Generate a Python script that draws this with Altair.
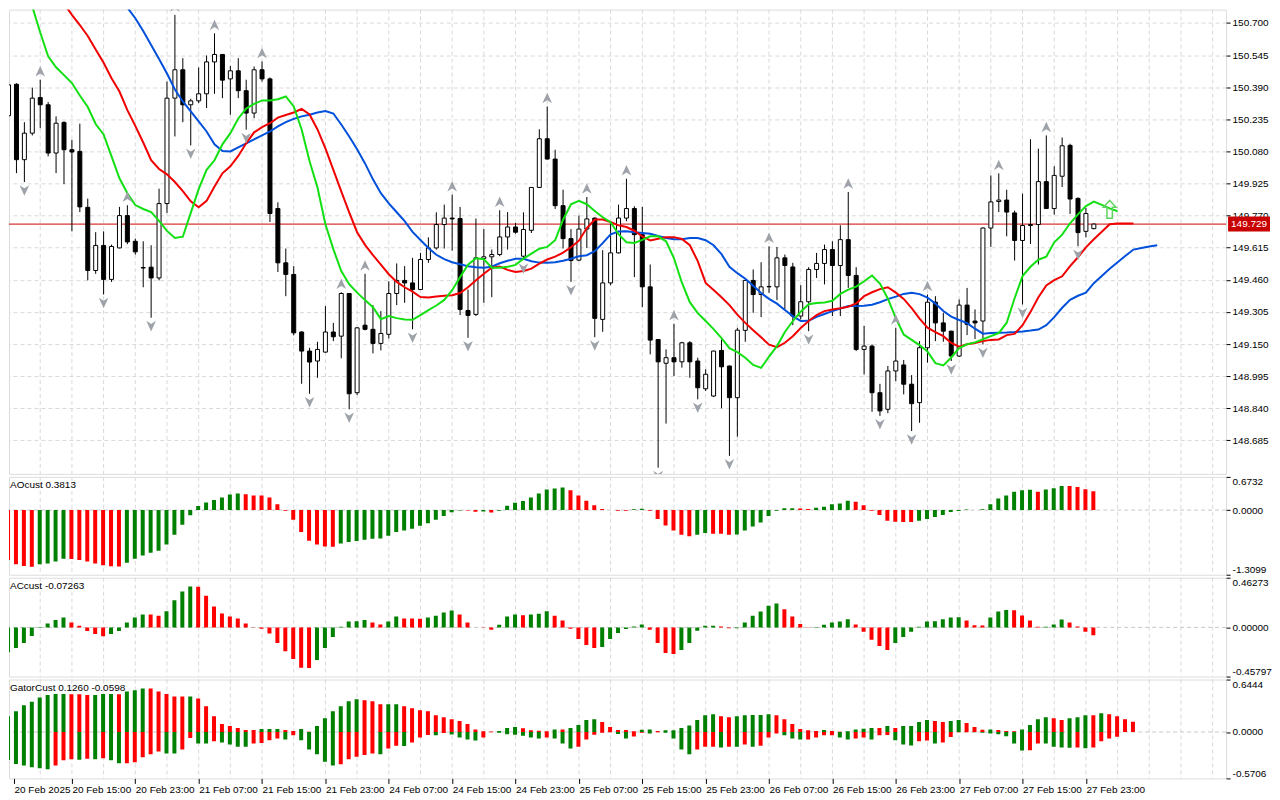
import json
import altair as alt
import pandas as pd

FONT = "Liberation Sans"
FS = 10

# ---------------- data ----------------
OPEN = [150.252, 150.404, 150.040, 150.168, 150.340, 150.305, 150.072, 150.220, 150.088, 150.080,
        149.810, 149.505, 149.626, 149.462, 149.614, 149.770, 149.646, 149.519, 149.521, 149.469,
        149.828, 150.337, 150.474, 150.305, 150.324, 150.358, 150.512, 150.548, 150.430, 150.469,
        150.373, 150.265, 150.474, 150.430, 149.804, 149.542, 149.486, 149.208, 149.116, 149.068,
        149.111, 149.208, 149.188, 149.394, 148.915, 149.241, 149.221, 149.153, 149.197, 149.394,
        149.457, 149.445, 149.413, 149.558, 149.614, 149.727, 149.758, 149.756, 149.312, 149.293,
        149.563, 149.571, 149.582, 149.667, 149.715, 149.574, 149.699, 149.906, 150.141, 150.043,
        149.818, 149.659, 149.555, 149.705, 149.758, 149.269, 149.445, 149.590, 149.758, 149.804,
        149.678, 149.426, 149.172, 149.057, 149.084, 149.064, 149.156, 149.068, 148.934, 148.899,
        149.119, 149.044, 148.891, 149.216, 149.457, 149.389, 149.428, 149.426, 149.566, 149.522,
        149.285, 149.354, 149.510, 149.539, 149.606, 149.529, 149.654, 149.481, 149.124, 149.140,
        148.915, 148.835, 149.020, 149.049, 148.956, 148.867, 149.132, 149.352, 149.252, 149.212,
        149.092, 149.338, 149.261, 149.261, 149.710, 149.838, 149.845, 149.783, 149.650, 149.722,
        149.727, 149.934, 149.804, 149.960, 150.109, 149.853, 149.694, 149.707]
HIGH = [150.413, 150.409, 150.221, 150.388, 150.426, 150.318, 150.249, 150.225, 150.136, 150.214,
        149.852, 149.690, 149.694, 149.630, 149.812, 149.820, 149.659, 149.646, 149.627, 149.900,
        150.417, 150.739, 150.530, 150.334, 150.485, 150.543, 150.650, 150.550, 150.493, 150.530,
        150.426, 150.490, 150.514, 150.437, 149.834, 149.611, 149.526, 149.212, 149.132, 149.161,
        149.333, 149.252, 149.400, 149.396, 149.232, 149.489, 149.338, 149.309, 149.453, 149.539,
        149.526, 149.566, 149.590, 149.665, 149.786, 149.823, 149.871, 149.812, 149.413, 149.756,
        149.705, 149.606, 149.796, 149.787, 149.734, 149.786, 149.908, 150.187, 150.297, 150.088,
        149.895, 149.705, 149.770, 149.860, 149.761, 149.603, 149.734, 149.823, 149.948, 149.815,
        149.812, 149.534, 149.174, 149.124, 149.248, 149.161, 149.164, 149.084, 149.028, 149.118,
        149.172, 149.046, 149.228, 149.459, 149.510, 149.545, 149.622, 149.619, 149.582, 149.542,
        149.434, 149.521, 149.590, 149.630, 149.646, 149.723, 149.884, 149.521, 149.237, 149.148,
        148.958, 149.044, 149.228, 149.073, 149.000, 149.164, 149.389, 149.381, 149.301, 149.214,
        149.365, 149.421, 149.317, 149.713, 149.964, 149.974, 149.895, 149.794, 149.876, 150.139,
        150.093, 150.157, 150.008, 150.147, 150.117, 149.858, 149.807, 149.732]
LOW = [150.244, 149.975, 149.932, 150.157, 150.192, 150.056, 149.975, 149.922, 149.694, 149.787,
       149.457, 149.489, 149.389, 149.450, 149.612, 149.632, 149.582, 149.424, 149.277, 149.457,
       149.783, 150.152, 150.221, 150.109, 150.313, 150.289, 150.358, 150.337, 150.257, 150.337,
       150.185, 150.240, 150.417, 149.739, 149.498, 149.381, 149.192, 148.958, 148.910, 148.987,
       149.108, 149.164, 149.081, 148.835, 148.904, 149.216, 149.105, 149.119, 149.177, 149.338,
       149.349, 149.221, 149.411, 149.542, 149.606, 149.611, 149.601, 149.290, 149.180, 149.285,
       149.349, 149.376, 149.574, 149.606, 149.683, 149.555, 149.686, 149.904, 150.041, 149.802,
       149.611, 149.450, 149.550, 149.614, 149.183, 149.209, 149.434, 149.587, 149.743, 149.473,
       149.328, 149.100, 148.553, 148.766, 148.996, 149.036, 148.987, 148.883, 148.923, 148.894,
       148.840, 148.610, 148.703, 149.161, 149.301, 149.280, 149.397, 149.362, 149.317, 149.241,
       149.269, 149.212, 149.469, 149.438, 149.285, 149.285, 149.421, 149.116, 149.004, 148.823,
       148.803, 148.816, 148.971, 148.907, 148.730, 148.770, 149.060, 149.164, 149.161, 149.068,
       149.087, 149.193, 149.174, 149.148, 149.619, 149.787, 149.670, 149.553, 149.341, 149.633,
       149.534, 149.802, 149.775, 149.908, 149.778, 149.622, 149.665, 149.704]
CLOSE = [150.401, 150.040, 150.168, 150.337, 150.305, 150.072, 150.216, 150.088, 150.077, 149.812,
         149.505, 149.626, 149.462, 149.621, 149.770, 149.643, 149.595, 149.517, 149.469, 149.828,
         150.337, 150.474, 150.305, 150.324, 150.358, 150.512, 150.548, 150.424, 150.469, 150.373,
         150.265, 150.474, 150.430, 149.780, 149.542, 149.486, 149.204, 149.116, 149.063, 149.124,
         149.208, 149.185, 149.394, 148.910, 149.228, 149.221, 149.153, 149.201, 149.394, 149.457,
         149.445, 149.413, 149.558, 149.614, 149.727, 149.758, 149.754, 149.317, 149.288, 149.566,
         149.571, 149.582, 149.667, 149.715, 149.690, 149.703, 149.906, 150.141, 150.043, 149.818,
         149.659, 149.553, 149.705, 149.754, 149.274, 149.445, 149.590, 149.758, 149.804, 149.678,
         149.426, 149.169, 149.064, 149.084, 149.064, 149.156, 149.064, 148.939, 149.004, 149.116,
         149.040, 148.891, 149.217, 149.457, 149.389, 149.426, 149.426, 149.566, 149.529, 149.285,
         149.354, 149.510, 149.539, 149.606, 149.529, 149.654, 149.481, 149.124, 149.140, 148.915,
         148.827, 149.020, 149.068, 148.956, 148.862, 149.132, 149.352, 149.252, 149.212, 149.092,
         149.338, 149.245, 149.252, 149.710, 149.836, 149.845, 149.787, 149.650, 149.722, 149.727,
         149.934, 149.804, 149.964, 150.107, 149.850, 149.688, 149.780, 149.729]

# Alligator lines (already shifted as drawn); first bar index of each line
JAW_START = 14
JAW = [150.822, 150.774, 150.723, 150.661, 150.594, 150.526, 150.456, 150.379, 150.321, 150.273,
       150.225, 150.176, 150.114, 150.082, 150.080, 150.099, 150.119, 150.138, 150.157, 150.176,
       150.201, 150.221, 150.237, 150.249, 150.257, 150.268, 150.275, 150.263, 150.210, 150.152,
       150.090, 150.022, 149.945, 149.878, 149.829, 149.786, 149.743, 149.691, 149.652, 149.614,
       149.581, 149.560, 149.545, 149.535, 149.526, 149.521, 149.518, 149.523, 149.540, 149.552,
       149.562, 149.562, 149.550, 149.543, 149.542, 149.545, 149.552, 149.562, 149.574, 149.579,
       149.598, 149.637, 149.680, 149.693, 149.694, 149.690, 149.686, 149.682, 149.672, 149.662,
       149.656, 149.656, 149.662, 149.662, 149.651, 149.627, 149.584, 149.523, 149.492, 149.465,
       149.431, 149.396, 149.368, 149.345, 149.314, 149.285, 149.261, 149.262, 149.281, 149.295,
       149.309, 149.321, 149.333, 149.333, 149.335, 149.340, 149.352, 149.367, 149.379, 149.392,
       149.397, 149.391, 149.374, 149.345, 149.309, 149.282, 149.266, 149.251, 149.224, 149.200,
       149.203, 149.205, 149.206, 149.208, 149.211, 149.215, 149.220, 149.241, 149.280, 149.325,
       149.363, 149.383, 149.398, 149.444, 149.478, 149.513, 149.545, 149.576, 149.606, 149.614,
       149.621, 149.627]
TEETH_START = 6
TEETH = [150.851, 150.794, 150.739, 150.690, 150.637, 150.572, 150.508, 150.433, 150.369, 150.279,
         150.203, 150.123, 150.038, 149.995, 149.969, 149.932, 149.888, 149.839, 149.810, 149.841,
         149.910, 149.974, 150.008, 150.058, 150.119, 150.172, 150.197, 150.216, 150.243, 150.256,
         150.268, 150.285, 150.258, 150.186, 150.094, 149.991, 149.887, 149.786, 149.690, 149.629,
         149.579, 149.533, 149.487, 149.450, 149.424, 149.403, 149.377, 149.375, 149.379, 149.383,
         149.386, 149.396, 149.424, 149.458, 149.489, 149.518, 149.524, 149.508, 149.498, 149.503,
         149.514, 149.538, 149.558, 149.572, 149.591, 149.617, 149.649, 149.710, 149.751, 149.751,
         149.739, 149.723, 149.715, 149.697, 149.670, 149.650, 149.658, 149.666, 149.666, 149.657,
         149.627, 149.550, 149.445, 149.411, 149.376, 149.338, 149.292, 149.252, 149.217, 149.183,
         149.147, 149.135, 149.156, 149.188, 149.227, 149.261, 149.290, 149.309, 149.317, 149.323,
         149.330, 149.346, 149.381, 149.400, 149.415, 149.424, 149.398, 149.368, 149.323, 149.273,
         149.229, 149.208, 149.188, 149.155, 149.137, 149.149, 149.155, 149.164, 149.170, 149.172,
         149.193, 149.199, 149.241, 149.304, 149.376, 149.433, 149.458, 149.477, 149.526, 149.569,
         149.617, 149.656, 149.692, 149.728, 149.732, 149.732, 149.732]
LIPS_START = 2
LIPS = [150.909, 150.779, 150.654, 150.539, 150.486, 150.448, 150.410, 150.350, 150.294, 150.212,
        150.162, 150.056, 149.950, 149.878, 149.821, 149.802, 149.787, 149.745, 149.696, 149.662,
        149.668, 149.783, 149.898, 149.991, 150.037, 150.114, 150.168, 150.239, 150.287, 150.309,
        150.326, 150.326, 150.332, 150.345, 150.297, 150.186, 150.032, 149.906, 149.728, 149.608,
        149.502, 149.439, 149.398, 149.362, 149.328, 149.270, 149.285, 149.275, 149.268, 149.267,
        149.290, 149.314, 149.336, 149.363, 149.410, 149.473, 149.533, 149.564, 149.559, 149.518,
        149.518, 149.523, 149.532, 149.562, 149.586, 149.610, 149.619, 149.651, 149.750, 149.825,
        149.841, 149.825, 149.792, 149.762, 149.738, 149.680, 149.641, 149.638, 149.653, 149.670,
        149.670, 149.646, 149.564, 149.446, 149.352, 149.299, 149.261, 149.222, 149.179, 149.130,
        149.111, 149.084, 149.049, 149.035, 149.089, 149.140, 149.208, 149.261, 149.306, 149.342,
        149.348, 149.351, 149.359, 149.392, 149.413, 149.427, 149.453, 149.481, 149.442, 149.369,
        149.275, 149.196, 149.170, 149.145, 149.114, 149.058, 149.047, 149.085, 149.130, 149.149,
        149.158, 149.173, 149.188, 149.203, 149.253, 149.371, 149.478, 149.523, 149.557, 149.572,
        149.641, 149.678, 149.733, 149.776, 149.816, 149.838, 149.822, 149.805, 149.791]

FRACTAL_UP = [4, 15, 21, 26, 32, 42, 45, 56, 62, 68, 73, 78, 84, 96, 106, 112, 116, 125, 131]
FRACTAL_DOWN = [2, 12, 18, 23, 30, 38, 43, 51, 58, 65, 71, 74, 82, 87, 91, 101, 110, 114, 119,
                123, 128, 135]
SIGNAL_K = [139]
SIGNAL_PRICE = [149.800]
LAST_PRICE = 149.729

AO = [-1.013, -1.100, -1.133, -1.146, -1.100, -1.080, -1.040, -0.986, -0.993, -1.013,
      -1.040, -1.080, -1.120, -1.140, -1.142, -1.066, -0.986, -0.919, -0.866, -0.826,
      -0.699, -0.498, -0.298, -0.104, 0.083, 0.156, 0.203, 0.257, 0.317, 0.337,
      0.323, 0.297, 0.294, 0.257, 0.116, -0.011, -0.197, -0.444, -0.619, -0.699,
      -0.739, -0.741, -0.679, -0.645, -0.625, -0.599, -0.579, -0.578, -0.518, -0.445,
      -0.411, -0.378, -0.318, -0.265, -0.198, -0.118, -0.044, -0.008, -0.010, -0.031,
      -0.028, -0.050, -0.011, 0.090, 0.150, 0.183, 0.257, 0.337, 0.417, 0.437,
      0.457, 0.403, 0.297, 0.190, 0.096, 0.023, 0.003, -0.011, -0.013, 0.016,
      0.029, -0.011, -0.178, -0.311, -0.411, -0.498, -0.532, -0.498, -0.465, -0.478,
      -0.480, -0.498, -0.497, -0.411, -0.331, -0.251, -0.118, -0.011, 0.036, 0.038,
      0.034, 0.023, 0.049, 0.069, 0.116, 0.136, 0.190, 0.170, 0.096, -0.011,
      -0.098, -0.218, -0.238, -0.240, -0.242, -0.218, -0.178, -0.138, -0.098, -0.037,
      -0.017, 0.012, 0.004, 0.016, 0.116, 0.237, 0.297, 0.370, 0.403, 0.410,
      0.370, 0.417, 0.444, 0.490, 0.489, 0.470, 0.424, 0.3813]
AC = [-0.232, -0.192, -0.145, -0.080, -0.006, 0.037, 0.068, 0.093, 0.046, 0.015,
      -0.034, -0.062, -0.083, -0.062, -0.034, 0.046, 0.093, 0.121, 0.120, 0.108,
      0.151, 0.253, 0.334, 0.380, 0.379, 0.294, 0.195, 0.130, 0.102, 0.083,
      0.037, -0.003, -0.012, -0.056, -0.145, -0.222, -0.294, -0.377, -0.378, -0.303,
      -0.192, -0.090, 0.006, 0.056, 0.057, 0.068, 0.046, 0.028, 0.056, 0.102,
      0.083, 0.082, 0.081, 0.093, 0.108, 0.139, 0.158, 0.121, 0.046, -0.002,
      -0.004, -0.022, 0.025, 0.102, 0.121, 0.114, 0.121, 0.127, 0.151, 0.108,
      0.065, -0.012, -0.108, -0.164, -0.192, -0.182, -0.108, -0.053, -0.015, 0.009,
      0.028, -0.022, -0.145, -0.238, -0.247, -0.210, -0.145, -0.031, 0.015, 0.016,
      0.009, -0.009, -0.008, 0.046, 0.108, 0.148, 0.201, 0.222, 0.170, 0.102,
      0.031, -0.003, 0.003, 0.025, 0.046, 0.056, 0.077, 0.028, -0.040, -0.114,
      -0.173, -0.210, -0.145, -0.090, -0.040, 0.006, 0.056, 0.057, 0.077, 0.093,
      0.094, 0.065, 0.019, 0.018, 0.093, 0.148, 0.161, 0.160, 0.111, 0.065,
      0.006, 0.007, 0.028, 0.074, 0.046, 0.009, -0.040, -0.07263]
GATOR_UP = [0.194, 0.255, 0.328, 0.373, 0.425, 0.454, 0.466, 0.467, 0.465, 0.464,
            0.454, 0.455, 0.466, 0.467, 0.465, 0.498, 0.514, 0.535, 0.534, 0.498,
            0.466, 0.437, 0.436, 0.437, 0.413, 0.316, 0.194, 0.097, 0.073, 0.049,
            0.024, 0.023, 0.036, 0.037, 0.038, 0.024, 0.012, 0.036, 0.004, 0.073,
            0.170, 0.255, 0.316, 0.377, 0.401, 0.389, 0.377, 0.340, 0.341, 0.342,
            0.316, 0.292, 0.267, 0.255, 0.207, 0.182, 0.158, 0.134, 0.097, 0.032,
            0.010, 0.006, 0.012, 0.049, 0.061, 0.045, 0.022, 0.016, 0.010, 0.032,
            0.030, 0.049, 0.085, 0.146, 0.158, 0.122, 0.061, 0.024, 0.023, 0.008,
            0.028, 0.032, 0.012, 0.020, 0.021, 0.049, 0.081, 0.146, 0.207, 0.219,
            0.194, 0.182, 0.194, 0.207, 0.208, 0.209, 0.219, 0.207, 0.158, 0.097,
            0.036, 0.020, 0.012, 0.024, 0.012, 0.004, 0.008, 0.030, 0.040, 0.049,
            0.048, 0.073, 0.049, 0.073, 0.075, 0.122, 0.146, 0.134, 0.122, 0.134,
            0.146, 0.109, 0.061, 0.028, 0.032, 0.024, 0.012, 0.008, 0.032, 0.085,
            0.158, 0.182, 0.170, 0.146, 0.170, 0.182, 0.207, 0.206, 0.231, 0.219,
            0.194, 0.158, 0.126]
GATOR_DOWN = [-0.344, -0.393, -0.413, -0.433, -0.446, -0.458, -0.413, -0.348, -0.336, -0.340,
              -0.328, -0.336, -0.324, -0.348, -0.385, -0.384, -0.373, -0.312, -0.275, -0.239,
              -0.263, -0.264, -0.215, -0.073, -0.142, -0.143, -0.113, -0.130, -0.154, -0.182,
              -0.183, -0.142, -0.134, -0.101, -0.081, -0.093, -0.041, -0.101, -0.215, -0.275,
              -0.365, -0.413, -0.397, -0.336, -0.304, -0.284, -0.263, -0.275, -0.203, -0.170,
              -0.171, -0.130, -0.069, -0.036, -0.040, -0.012, -0.032, -0.069, -0.093, -0.105,
              -0.069, -0.002, -0.008, -0.028, -0.034, -0.045, -0.069, -0.081, -0.069, -0.081,
              -0.142, -0.203, -0.183, -0.093, -0.035, -0.008, -0.002, -0.025, -0.081, -0.057,
              -0.008, -0.020, -0.003, -0.008, -0.081, -0.215, -0.275, -0.215, -0.182, -0.180,
              -0.190, -0.180, -0.183, -0.154, -0.182, -0.170, -0.069, -0.020, -0.041, -0.081,
              -0.093, -0.092, -0.069, -0.041, -0.040, -0.069, -0.093, -0.081, -0.069, -0.093,
              -0.041, -0.038, -0.101, -0.154, -0.166, -0.113, -0.105, -0.142, -0.130, -0.061,
              -0.004, -0.002, -0.003, -0.009, -0.020, -0.028, -0.053, -0.142, -0.227, -0.226,
              -0.142, -0.143, -0.182, -0.190, -0.195, -0.190, -0.200, -0.190, -0.113, -0.081,
              -0.0598]

PRICE_TICKS = [150.700, 150.545, 150.390, 150.235, 150.080, 149.925, 149.770, 149.615,
               149.460, 149.305, 149.150, 148.995, 148.840, 148.685]
AO_TICKS = [0.6732, 0.0, -1.3099]
AC_TICKS = [0.46273, 0.0, -0.45797]
GATOR_TICKS = [0.6444, 0.0, -0.5706]
TIME_LABELS = ["20 Feb 2025", "20 Feb 15:00", "20 Feb 23:00", "21 Feb 07:00", "21 Feb 15:00",
               "21 Feb 23:00", "24 Feb 07:00", "24 Feb 15:00", "24 Feb 23:00", "25 Feb 07:00",
               "25 Feb 15:00", "25 Feb 23:00", "26 Feb 07:00", "26 Feb 15:00", "26 Feb 23:00",
               "27 Feb 07:00", "27 Feb 15:00", "27 Feb 23:00"]
AO_TITLE = "AOcust 0.3813"
AC_TITLE = "ACcust -0.07263"
GATOR_TITLE = "GatorCust 0.1260 -0.0598"

# ---------------- layout / style ----------------
W = 1219
H_MAIN, H_AO, H_AC, H_GT = 465, 98, 99, 99
X0 = 0.6875
X_DOMAIN = [X0, X0 + W / 8]
Y_MAIN = [148.5231, 150.7644]
GREEN, RED = "#008000", "#ff0000"
GRID = "#d9d9d9"

xs = alt.Scale(domain=X_DOMAIN, nice=False, zero=False)

def xenc(axis=None):
    return alt.X("k:Q", scale=xs, axis=axis)

def lab_axis(values, fmt, flush=False, grid=False):
    kw = dict(orient="right", values=values, format=fmt, tickSize=4, labelPadding=2,
              domain=False, title=None, labelFont=FONT, labelFontSize=FS, labelColor="black",
              tickColor="black", labelFlush=flush, labelOverlap=False,
              labelExpr="replace(datum.label, '\u2212', '-')")
    if grid:
        kw.update(grid=True, gridDash=[4, 3], gridColor=GRID)
    else:
        kw.update(grid=False)
    return alt.Axis(**kw)

n = len(OPEN)
candles = pd.DataFrame({"k": list(range(n)), "open": OPEN, "high": HIGH, "low": LOW, "close": CLOSE})
candles["top"] = candles[["open", "close"]].max(axis=1)
candles["bot"] = candles[["open", "close"]].min(axis=1)
candles["bull"] = candles["close"] >= candles["open"]

grid_df = pd.DataFrame({"k": list(range(4, 153, 4))})

def line_df(start, vals):
    return pd.DataFrame({"k": list(range(start, start + len(vals))), "v": vals})

def colored(vals, first, absolute=False):
    cols = []
    for i, v in enumerate(vals):
        if i == 0:
            cols.append(first)
        else:
            a, b = (abs(v), abs(vals[i - 1])) if absolute else (v, vals[i - 1])
            cols.append(GREEN if a > b else RED)
    return pd.DataFrame({"k": list(range(len(vals))), "v": vals, "c": cols})

# ---------------- main price panel ----------------
ys = alt.Scale(domain=Y_MAIN, nice=False, zero=False)
yax = lab_axis(PRICE_TICKS, ".3f", grid=True)

vgrid = alt.Chart(grid_df).mark_rule(color=GRID, strokeDash=[4, 3], strokeWidth=1).encode(x=xenc())
price_line = alt.Chart(pd.DataFrame({"p": [LAST_PRICE]})).mark_rule(
    color="#d00000", strokeWidth=1).encode(y=alt.Y("p:Q", scale=ys, axis=yax))
wicks = alt.Chart(candles).mark_rule(color="black", strokeWidth=1, clip=True).encode(
    x=xenc(), y=alt.Y("low:Q", scale=ys, axis=yax), y2="high:Q")
bodies = alt.Chart(candles).mark_bar(size=4, stroke="black", strokeWidth=1, clip=True).encode(
    x=xenc(), y=alt.Y("bot:Q", scale=ys, axis=yax), y2="top:Q",
    fill=alt.condition("datum.bull", alt.value("white"), alt.value("black")))

def gator_line(start, vals, color):
    return alt.Chart(line_df(start, vals)).mark_line(color=color, strokeWidth=2, clip=True).encode(
        x=xenc(), y=alt.Y("v:Q", scale=ys, axis=yax))

jaw = gator_line(JAW_START, JAW, "#0050dc")
teeth = gator_line(TEETH_START, TEETH, "#f00000")
lips = gator_line(LIPS_START, LIPS, "#12e012")

UP_SHAPE = "M0,-1L0.85,0.85L0,0.3L-0.85,0.85Z"
DOWN_SHAPE = "M0,1L0.85,-0.85L0,-0.3L-0.85,-0.85Z"
frac_up = alt.Chart(candles[candles["k"].isin(FRACTAL_UP)]).mark_point(
    shape=UP_SHAPE, filled=True, size=130, color="#9ea3aa", opacity=1, yOffset=-8, clip=True).encode(
    x=xenc(), y=alt.Y("high:Q", scale=ys, axis=yax))
frac_dn = alt.Chart(candles[candles["k"].isin(FRACTAL_DOWN)]).mark_point(
    shape=DOWN_SHAPE, filled=True, size=130, color="#9ea3aa", opacity=1, yOffset=8, clip=True).encode(
    x=xenc(), y=alt.Y("low:Q", scale=ys, axis=yax))
ARROW_SHAPE = "M0,-1L0.7,-0.25L0.3,-0.25L0.3,1L-0.3,1L-0.3,-0.25L-0.7,-0.25Z"
signal = alt.Chart(pd.DataFrame({"k": SIGNAL_K, "p": SIGNAL_PRICE})).mark_point(
    shape=ARROW_SHAPE, filled=False, size=324, stroke="#5fd35f", strokeWidth=1.5, opacity=1,
    clip=True).encode(x=xenc(), y=alt.Y("p:Q", scale=ys, axis=yax))

half = 7.5 * (Y_MAIN[1] - Y_MAIN[0]) / H_MAIN
box_df = pd.DataFrame({"p": [LAST_PRICE], "p1": [LAST_PRICE + half], "p2": [LAST_PRICE - half],
                       "t": [f"{LAST_PRICE:.3f}"]})
price_box = alt.Chart(box_df).mark_rect(color="#c80000", clip=False).encode(
    x=alt.value(W + 2), x2=alt.value(W + 44),
    y=alt.Y("p1:Q", scale=ys, axis=yax), y2="p2:Q")
price_txt = alt.Chart(box_df).mark_text(
    align="left", baseline="middle", color="white", font=FONT, fontSize=FS, clip=False).encode(
    x=alt.value(W + 5), y=alt.Y("p:Q", scale=ys, axis=yax), text="t:N")

main = alt.layer(vgrid, price_line, wicks, bodies, jaw, teeth, lips, frac_up, frac_dn, signal,
                 price_box, price_txt).properties(width=W, height=H_MAIN)

# ---------------- indicator panels ----------------
def panel(frames, ticks, fmt, title, height, xaxis=None):
    sc = alt.Scale(domain=[ticks[2], ticks[0]], nice=False, zero=False)
    ax = lab_axis(ticks, fmt, flush=True)
    layers = [
        alt.Chart(grid_df).mark_rule(color=GRID, strokeDash=[4, 3]).encode(x=xenc(xaxis)),
        alt.Chart(pd.DataFrame({"z": [0.0]})).mark_rule(color="#c8c8c8", strokeDash=[4, 3]).encode(
            y=alt.Y("z:Q", scale=sc, axis=ax)),
    ]
    for df in frames:
        layers.append(alt.Chart(df).mark_bar(size=4, xOffset=-0.5, clip=True).encode(
            x=xenc(xaxis), y=alt.Y("v:Q", scale=sc, axis=ax, stack=None), y2=alt.datum(0),
            color=alt.Color("c:N", scale=None)))
    layers.append(alt.Chart(pd.DataFrame({"t": [title]})).mark_text(
        align="left", baseline="middle", font=FONT, fontSize=FS, color="black").encode(
        x=alt.value(1), y=alt.value(8), text="t:N"))
    return alt.layer(*layers).properties(width=W, height=height)

xaxis = alt.Axis(values=[X0] + [8 * i for i in range(1, len(TIME_LABELS))],
                 labelExpr=json.dumps(TIME_LABELS) + "[round(datum.value / 8)]",
                 labelAlign="left", labelBaseline="top", labelPadding=1, tickSize=5,
                 labelFlush=False, labelOverlap=False, domain=False, grid=False, title=None,
                 labelFont=FONT, labelFontSize=FS, labelColor="black", tickColor="black")

ao = panel([colored(AO, RED)], AO_TICKS, ".4f", AO_TITLE, H_AO)
ac = panel([colored(AC, GREEN)], AC_TICKS, ".5f", AC_TITLE, H_AC)
gator = panel([colored(GATOR_UP, GREEN), colored(GATOR_DOWN, GREEN, absolute=True)],
              GATOR_TICKS, ".4f", GATOR_TITLE, H_GT, xaxis=xaxis)

chart = alt.vconcat(main, ao, ac, gator, spacing=3, bounds="flush").resolve_scale(
    y="independent").properties(padding=0).configure_view(
    stroke="black", strokeWidth=1).configure(background="white")

chart.save("out.html", embed_options={"renderer": "svg", "actions": False})
